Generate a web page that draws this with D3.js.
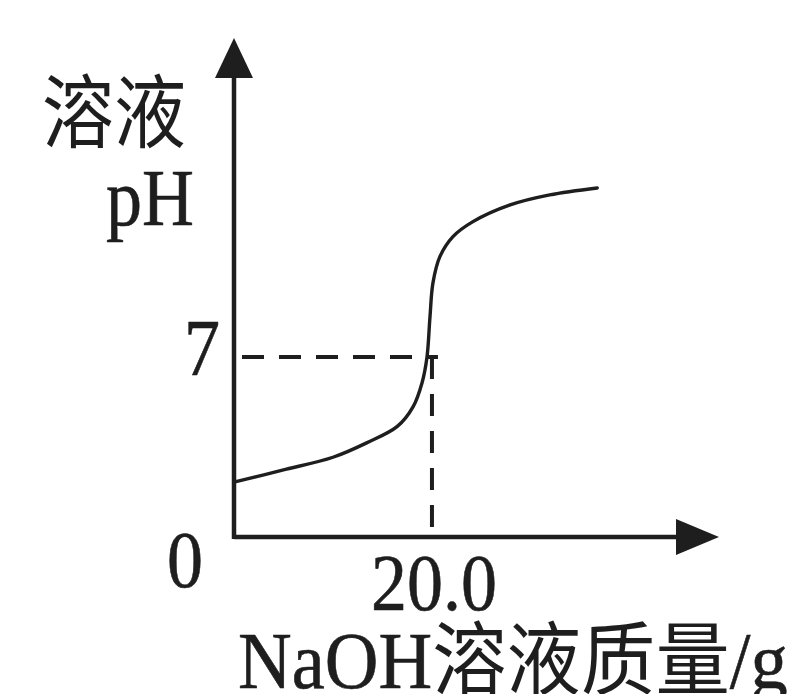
<!DOCTYPE html>
<html>
<head>
<meta charset="utf-8">
<script src="https://cdn.jsdelivr.net/npm/d3@7"></script>
<style>
  html, body { margin: 0; padding: 0; background: #fff; }
  svg { display: block; }
</style>
</head>
<body>
<svg width="788" height="694"></svg>
<script>
// NaOH mass (g) vs solution pH
var naohMass = [0.2, 4.9, 10, 13.4, 16.5, 18.1, 19.0, 19.5, 19.8, 20.1, 20.8, 22.1, 24.1, 27.9, 31.9, 36.7];
var phValues = [2.15, 2.6, 3.1, 3.66, 4.3, 5.07, 6.0, 7.0, 8.56, 9.88, 10.9, 11.67, 12.25, 12.91, 13.3, 13.57];

var neutralPH = 7;
var equivMass = 20;
var xTickLabel = "20.0";

var ink = "#1e1e1e";
var svg = d3.select("svg");

var x = d3.scaleLinear().domain([0, 49]).range([234, 719]);
var y = d3.scaleLinear().domain([0, 19.4]).range([537, 38]);

var points = naohMass.map(function(m, i){ return {m: m, ph: phValues[i]}; });

// dashed guides
var guides = svg.append("g")
    .attr("stroke", ink)
    .attr("stroke-width", 4)
    .attr("stroke-dasharray", "22,15");

guides.append("line")
    .attr("x1", x(0) + 8).attr("y1", y(neutralPH))
    .attr("x2", x(equivMass) + 6).attr("y2", y(neutralPH));

guides.append("line")
    .attr("x1", x(equivMass)).attr("y1", y(neutralPH))
    .attr("x2", x(equivMass)).attr("y2", y(0));

// titration curve
var line = d3.line()
    .x(function(d){ return x(d.m); })
    .y(function(d){ return y(d.ph); })
    .curve(d3.curveCatmullRom.alpha(0.5));

svg.append("path")
    .datum(points)
    .attr("d", line)
    .attr("fill", "none")
    .attr("stroke", ink)
    .attr("stroke-width", 3.4)
    .attr("stroke-linecap", "round");

// axes with arrow heads
var axes = svg.append("g");
axes.append("line")
    .attr("x1", x(0)).attr("y1", y(0))
    .attr("x2", x.range()[1] - 30).attr("y2", y(0))
    .attr("stroke", ink).attr("stroke-width", 4.5);
axes.append("line")
    .attr("x1", x(0)).attr("y1", y(0) + 2)
    .attr("x2", x(0)).attr("y2", y.range()[1] + 30)
    .attr("stroke", ink).attr("stroke-width", 4.5);

var xEnd = x.range()[1], yEnd = y.range()[1];
axes.append("path")
    .attr("d", "M" + xEnd + "," + y(0) + "L" + (xEnd - 43) + "," + (y(0) - 18) + "L" + (xEnd - 43) + "," + (y(0) + 18) + "Z")
    .attr("fill", ink);
axes.append("path")
    .attr("d", "M" + x(0) + "," + yEnd + "L" + (x(0) - 19) + "," + (yEnd + 40) + "L" + (x(0) + 19) + "," + (yEnd + 40) + "Z")
    .attr("fill", ink);

// labels (the source is a bit squeezed horizontally)
var serif = "'Liberation Serif', 'Times New Roman', serif";
var cjk = "'Noto Sans CJK SC', sans-serif";

function label(px, py, anchor, sx){
    return svg.append("text")
        .attr("transform", "translate(" + px + "," + py + ") scale(" + (sx || 0.9) + ",1)")
        .attr("text-anchor", anchor)
        .attr("fill", ink)
        .attr("stroke", ink)
        .attr("stroke-width", 0.6)
        .style("font-size", "80px");
}

label(x(0) - 49, y(0) + 50, "middle").style("font-family", serif).text("0");
label(x(0) - 14, y(neutralPH) + 18, "end").style("font-family", serif).text(neutralPH);
label(x(equivMass) + 2, y(0) + 73, "middle").style("font-family", serif).text(xTickLabel);

label(114, 141, "middle").style("font-family", cjk).attr("stroke-width", 0).text("溶液");
label(150, 225, "middle").style("font-family", serif).text("pH");

var xTitle = label(238, 688, "start", 0.93).style("font-family", serif);
xTitle.append("tspan").text("NaOH");
xTitle.append("tspan").style("font-family", cjk).attr("stroke-width", 0).text("溶液质量");
xTitle.append("tspan").text("/g");
</script>
</body>
</html>
